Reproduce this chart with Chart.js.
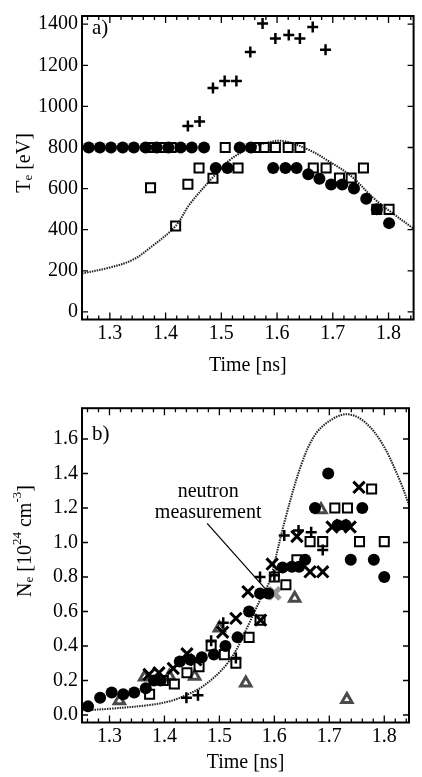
<!DOCTYPE html>
<html>
<head>
<meta charset="utf-8">
<script src="https://cdn.jsdelivr.net/npm/chart.js@4"></script>
<style>
  html,body{margin:0;padding:0;background:#fff;}
  canvas{display:block;}
</style>
</head>
<body>
<canvas id="cTe" width="422" height="392"></canvas>
<canvas id="cNe" width="422" height="385"></canvas>
<script>
// ticks
const xTicks = [1.3, 1.4, 1.5, 1.6, 1.7, 1.8];
const xMinor = [1.26,1.28,1.30,1.32,1.34,1.36,1.38,1.40,1.42,1.44,1.46,1.48,1.50,1.52,1.54,1.56,1.58,1.60,1.62,1.64,1.66,1.68,1.70,1.72,1.74,1.76,1.78,1.80,1.82,1.84];
const teTicks = [0, 200, 400, 600, 800, 1000, 1200, 1400];
const neTicks = [0, 0.2, 0.4, 0.6, 0.8, 1.0, 1.2, 1.4, 1.6];

// a) Te [eV]
const teCircT = [1.262,1.282,1.302,1.323,1.343,1.364,1.384,1.405,1.427,1.447,1.469,1.490,1.511,1.533,1.553,1.593,1.615,1.635,1.656,1.676,1.697,1.717,1.738,1.760,1.779,1.801];
const teCircV = [800,800,800,800,800,800,800,800,800,800,800,700,700,800,800,700,700,700,670,648,620,620,601,551,499,432];
const teSqT = [1.373,1.373,1.392,1.410,1.418,1.440,1.460,1.485,1.507,1.530,1.562,1.577,1.597,1.620,1.641,1.665,1.688,1.712,1.733,1.755,1.779,1.801];
const teSqV = [604,800,800,800,418,621,700,650,800,700,800,800,800,800,800,700,700,652,652,700,499,499];
const tePlusT = [1.440,1.461,1.485,1.506,1.527,1.552,1.574,1.597,1.621,1.641,1.664,1.687];
const tePlusV = [905,926,1090,1124,1124,1265,1403,1331,1348,1331,1387,1276];
const teFitT = [1.25,1.30,1.34,1.375,1.418,1.443,1.485,1.516,1.55,1.58,1.61,1.656,1.697,1.732,1.773,1.802,1.845];
const teFitV = [187,216,252,318,418,523,655,741,796,822,832,790,726,663,554,491,405];

// b) Ne [10^24 cm^-3]
const neCircT = [1.261,1.283,1.304,1.325,1.345,1.366,1.381,1.393,1.428,1.447,1.468,1.490,1.511,1.533,1.554,1.574,1.589,1.615,1.632,1.645,1.656,1.674,1.698,1.715,1.730,1.739,1.760,1.781,1.800];
const neCircV = [0.05,0.10,0.13,0.12,0.13,0.155,0.20,0.20,0.31,0.32,0.335,0.35,0.40,0.45,0.60,0.705,0.705,0.855,0.86,0.86,0.90,1.20,1.40,1.10,1.10,0.90,1.20,0.90,0.80];
const neSqT = [1.373,1.398,1.418,1.441,1.463,1.485,1.509,1.530,1.554,1.574,1.600,1.621,1.641,1.665,1.688,1.710,1.733,1.755,1.777,1.800];
const neSqV = [0.12,0.20,0.18,0.245,0.28,0.40,0.35,0.30,0.45,0.55,0.80,0.755,0.90,1.005,1.005,1.20,1.20,1.005,1.31,1.005];
const nePlusT = [1.440,1.461,1.485,1.507,1.530,1.574,1.600,1.618,1.644,1.667,1.688];
const nePlusV = [0.10,0.115,0.43,0.535,0.33,0.80,0.81,1.04,1.07,1.06,0.957];
const neXT = [1.372,1.390,1.416,1.441,1.457,1.506,1.530,1.552,1.575,1.596,1.641,1.665,1.688,1.705,1.722,1.738,1.754];
const neXV = [0.235,0.245,0.27,0.355,0.32,0.48,0.56,0.715,0.55,0.875,1.035,0.83,0.83,1.09,1.10,1.09,1.32];
const neTriT = [1.318,1.364,1.409,1.455,1.500,1.548,1.637,1.685,1.732];
const neTriV = [0.083,0.22,0.225,0.225,0.505,0.185,0.677,1.19,0.09];
const neNeutT = [1.600];
const neNeutV = [0.705];
const neFitT = [1.25,1.30,1.373,1.41,1.44,1.469,1.504,1.527,1.551,1.574,1.592,1.60,1.621,1.65,1.676,1.708,1.735,1.764,1.796,1.828,1.846];
const neFitV = [0.027,0.036,0.058,0.08,0.116,0.164,0.26,0.357,0.51,0.667,0.78,0.88,1.15,1.46,1.633,1.72,1.743,1.70,1.575,1.362,1.208];
const neArrowT = [1.4777, 1.587];
const neArrowV = [1.111, 0.719];
const neutronLabel = {t: 1.4796, v: 1.264, lines: ['neutron', 'measurement']};

const SERIF = '"Liberation Serif", "Times New Roman", serif';
const pts = (xs, ys) => xs.map((x, i) => ({x: x, y: ys[i]}));

// inward ticks + box frame
const frameTicks = {
  id: 'frameTicks',
  afterDraw(chart, args, opts) {
    const {ctx, chartArea: a, scales: {x, y}} = chart;
    ctx.save();
    ctx.strokeStyle = '#000';
    ctx.lineWidth = 1.3;
    ctx.beginPath();
    xMinor.forEach(v => {
      const p = x.getPixelForValue(v);
      const len = xTicks.some(t => Math.abs(t - v) < 1e-6) ? 7 : 4;
      ctx.moveTo(p, a.bottom); ctx.lineTo(p, a.bottom - len);
      ctx.moveTo(p, a.top); ctx.lineTo(p, a.top + len);
    });
    opts.yTicks.forEach(v => {
      const p = y.getPixelForValue(v);
      ctx.moveTo(a.left, p); ctx.lineTo(a.left + 6, p);
      ctx.moveTo(a.right, p); ctx.lineTo(a.right - 6, p);
    });
    ctx.stroke();
    ctx.lineWidth = 2;
    ctx.strokeRect(a.left, a.top, a.width, a.height);
    ctx.restore();
  }
};

function rich(ctx, parts, cx, cy) {
  let w = 0;
  parts.forEach(p => {
    ctx.font = (p.s ? '13px ' : '20px ') + SERIF;
    p.w = ctx.measureText(p.t).width;
    w += p.w;
  });
  ctx.save();
  ctx.translate(cx, cy);
  ctx.rotate(-Math.PI / 2);
  let xx = -w / 2;
  parts.forEach(p => {
    ctx.font = (p.s ? '13px ' : '20px ') + SERIF;
    ctx.fillText(p.t, xx, p.s === 'sub' ? 2 : p.s === 'sup' ? -10 : 0);
    xx += p.w;
  });
  ctx.restore();
}

const panelText = {
  id: 'panelText',
  afterDraw(chart, args, o) {
    const {ctx, chartArea: a, scales: {x, y}} = chart;
    ctx.save();
    ctx.fillStyle = '#000';
    ctx.textBaseline = 'alphabetic';
    ctx.font = '20px ' + SERIF;
    ctx.textAlign = 'center';
    ctx.fillText('Time [ns]', (a.left + a.right) / 2, o.xTitleY);
    ctx.textAlign = 'left';
    rich(ctx, o.yTitle, o.yTitleX, o.yTitleY);
    ctx.font = '21px ' + SERIF;
    ctx.fillText(o.tag, a.left + 10, o.tagY);
    if (o.note) {
      ctx.font = '20px ' + SERIF;
      ctx.textAlign = 'center';
      const px = x.getPixelForValue(o.note.t), py = y.getPixelForValue(o.note.v);
      o.note.lines.forEach((s, i) => ctx.fillText(s, px, py + i * 21.5));
    }
    ctx.restore();
  }
};

function axes(yMin, yMax, yTicks, yFmt, xH) {
  const tickFont = {family: SERIF, size: 20};
  return {
    x: {
      type: 'linear', min: 1.25, max: 1.845,
      afterFit: s => { s.height = xH; },
      afterBuildTicks: s => { s.ticks = xTicks.map(v => ({value: v})); },
      ticks: {font: tickFont, color: '#000', padding: 2, maxRotation: 0, autoSkip: false, callback: v => v.toFixed(1)},
      grid: {display: false, drawTicks: false},
      border: {display: false}
    },
    y: {
      type: 'linear', min: yMin, max: yMax,
      afterFit: s => { s.width = 82; },
      afterBuildTicks: s => { s.ticks = yTicks.map(v => ({value: v})); },
      ticks: {font: tickFont, color: '#000', padding: 4, autoSkip: false, callback: yFmt},
      grid: {display: false, drawTicks: false},
      border: {display: false}
    }
  };
}

const circ = (d) => ({data: d, pointStyle: 'circle', pointRadius: 6, backgroundColor: '#000', borderColor: '#000', borderWidth: 0});
const plus = (d) => ({data: d, pointStyle: 'cross', pointRadius: 5.5, borderColor: '#000', borderWidth: 2.5});
const sq = (d) => ({data: d, pointStyle: 'rect', pointRadius: 6.4, backgroundColor: 'rgba(0,0,0,0)', borderColor: '#000', borderWidth: 2});
const xx = (d) => ({data: d, pointStyle: 'crossRot', pointRadius: 8, borderColor: '#000', borderWidth: 3});
const tri = (d, c) => ({data: d, pointStyle: 'triangle', pointRadius: 6, backgroundColor: 'rgba(0,0,0,0)', borderColor: c, borderWidth: 3});
const fit = (d) => ({data: d, showLine: true, pointRadius: 0, borderColor: '#222', borderWidth: 2, borderDash: [1.5, 1], tension: 0.35});

new Chart(document.getElementById('cTe'), {
  type: 'scatter',
  data: {datasets: [
    circ(pts(teCircT, teCircV)),
    plus(pts(tePlusT, tePlusV)),
    sq(pts(teSqT, teSqV)),
    fit(pts(teFitT, teFitV))
  ]},
  options: {
    responsive: false, animation: false,
    layout: {padding: {top: 4.2, left: 0, right: 0, bottom: 0}},
    plugins: {
      legend: {display: false}, tooltip: {enabled: false},
      frameTicks: {yTicks: teTicks},
      panelText: {
        xTitleY: 371, yTitleX: 29.5, yTitleY: 163, tag: 'a)', tagY: 34,
        yTitle: [{t: 'T'}, {t: 'e', s: 'sub'}, {t: ' [eV]'}]
      }
    },
    scales: axes(-37, 1440, teTicks, v => String(v), 72.5)
  },
  plugins: [frameTicks, panelText]
});

new Chart(document.getElementById('cNe'), {
  type: 'scatter',
  data: {datasets: [
    circ(pts(neCircT, neCircV)),
    xx(pts(neXT, neXV)),
    plus(pts(nePlusT, nePlusV)),
    sq(pts(neSqT, neSqV)),
    tri(pts(neTriT, neTriV), '#4a4a4a'),
    {data: pts(neNeutT, neNeutV), pointStyle: 'crossRot', pointRadius: 8, borderColor: '#999', borderWidth: 5},
    {data: pts(neArrowT, neArrowV), showLine: true, pointRadius: 0, borderColor: '#000', borderWidth: 1.2},
    fit(pts(neFitT, neFitV))
  ]},
  options: {
    responsive: false, animation: false,
    layout: {padding: {top: 16.2, left: 0, right: 0, bottom: 0}},
    plugins: {
      legend: {display: false}, tooltip: {enabled: false},
      frameTicks: {yTicks: neTicks},
      panelText: {
        xTitleY: 376, yTitleX: 31, yTitleY: 149, tag: 'b)', tagY: 48,
        yTitle: [{t: 'N'}, {t: 'e', s: 'sub'}, {t: ' [10'}, {t: '24', s: 'sup'}, {t: ' cm'}, {t: '-3', s: 'sup'}, {t: ']'}],
        note: neutronLabel
      }
    },
    scales: axes(-0.0435, 1.7786, neTicks, v => v.toFixed(1), 54.5)
  },
  plugins: [frameTicks, panelText]
});
</script>
</body>
</html>
